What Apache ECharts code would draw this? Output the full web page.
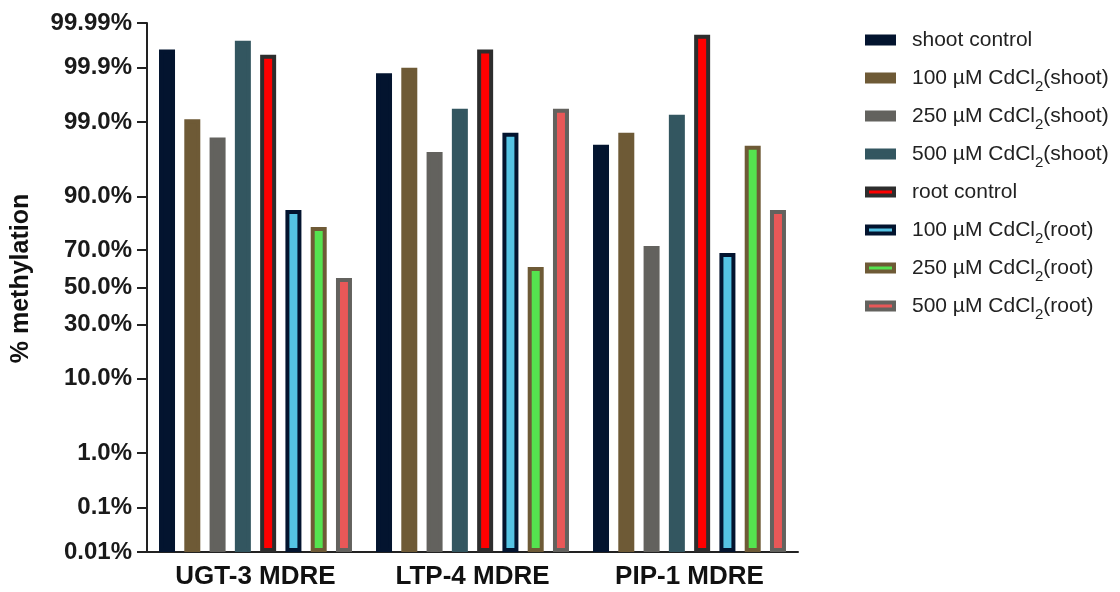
<!DOCTYPE html>
<html>
<head>
<meta charset="utf-8">
<script src="https://cdn.jsdelivr.net/npm/echarts@6/dist/echarts.min.js"></script>
<style>
  html, body { margin: 0; padding: 0; background: #fff; }
  #chart { width: 1120px; height: 592px; }
</style>
</head>
<body>
<div id="chart"></div>
<script>
// groups on the x axis
const groups = ['UGT-3 MDRE', 'LTP-4 MDRE', 'PIP-1 MDRE'];
const seriesNames = [
  'shoot control', '100 µM CdCl2(shoot)', '250 µM CdCl2(shoot)', '500 µM CdCl2(shoot)',
  'root control', '100 µM CdCl2(root)', '250 µM CdCl2(root)', '500 µM CdCl2(root)'
];
// % methylation
const shootControl = [99.959, 99.87, 97.76];
const cd100Shoot = [99.10, 99.90, 98.52];
const cd250Shoot = [98.26, 97.17, 72.0];
const cd500Shoot = [99.974, 99.40, 99.24];
const rootControl = [99.947, 99.959, 99.981];
const cd100Root = [86.2, 98.52, 68.6];
const cd250Root = [80.3, 61.4, 97.68];
const cd500Root = [55.3, 99.40, 86.2];
const tickPercents = [0.01, 0.1, 1, 10, 30, 50, 70, 90, 99, 99.9, 99.99];
const tickLabels = ['0.01%', '0.1%', '1.0%', '10.0%', '30.0%', '50.0%', '70.0%', '90.0%', '99.0%', '99.9%', '99.99%'];

// inverse normal cdf (Acklam), the axis is a probability scale
function probit(p) {
  const a = [-3.969683028665376e+01, 2.209460984245205e+02, -2.759285104469687e+02, 1.383577518672690e+02, -3.066479806614716e+01, 2.506628277459239e+00];
  const b = [-5.447609879822406e+01, 1.615858368580409e+02, -1.556989798598866e+02, 6.680131188771972e+01, -1.328068155288572e+01];
  const c = [-7.784894002430293e-03, -3.223964580411365e-01, -2.400758277161838e+00, -2.549732539343734e+00, 4.374664141464968e+00, 2.938163982698783e+00];
  const d = [7.784695709041462e-03, 3.224671290700398e-01, 2.445134137142996e+00, 3.754408661907416e+00];
  const pl = 0.02425;
  let q, r;
  if (p < pl) {
    q = Math.sqrt(-2 * Math.log(p));
    return (((((c[0] * q + c[1]) * q + c[2]) * q + c[3]) * q + c[4]) * q + c[5]) /
      ((((d[0] * q + d[1]) * q + d[2]) * q + d[3]) * q + 1);
  }
  if (p > 1 - pl) {
    q = Math.sqrt(-2 * Math.log(1 - p));
    return -(((((c[0] * q + c[1]) * q + c[2]) * q + c[3]) * q + c[4]) * q + c[5]) /
      ((((d[0] * q + d[1]) * q + d[2]) * q + d[3]) * q + 1);
  }
  q = p - 0.5;
  r = q * q;
  return (((((a[0] * r + a[1]) * r + a[2]) * r + a[3]) * r + a[4]) * r + a[5]) * q /
    (((((b[0] * r + b[1]) * r + b[2]) * r + b[3]) * r + b[4]) * r + 1);
}
const ZMAX = -probit(0.0001);
const toAxis = pct => probit(pct / 100) + ZMAX;
const tickValues = tickPercents.map(toAxis);

const fills = ['#03142f', '#6e5a36', '#63625e', '#335660', '#ff0000', '#55c3e4', '#55e34f', '#e85858'];
const borders = ['#03142f', '#6e5a36', '#63625e', '#335660', '#2d2d2d', '#03142f', '#6e5a36', '#63625e'];
const allData = [shootControl, cd100Shoot, cd250Shoot, cd500Shoot, rootControl, cd100Root, cd250Root, cd500Root];

const font = "'Liberation Sans', Arial, sans-serif";

const option = {
  animation: false,
  grid: { left: 147, right: 322, top: 23, bottom: 40, containLabel: false },
  legend: {
    orient: 'vertical',
    left: 860,
    top: 17,
    itemWidth: 27,
    itemHeight: 7,
    itemGap: 2,
    icon: 'rect',
    itemStyle: { borderWidth: 4 },
    data: seriesNames,
    formatter: name => name.replace('CdCl2', 'CdCl{sub|2}'),
    textStyle: {
      fontFamily: font,
      fontSize: 21,
      color: '#222',
      lineHeight: 36,
      padding: [0, 0, 0, 13],
      rich: {
        sub: { fontFamily: font, fontSize: 15, lineHeight: 15, color: '#222', padding: [17, 0, 0, 0] }
      }
    }
  },
  xAxis: {
    type: 'category',
    data: groups,
    axisLine: { lineStyle: { color: '#222', width: 2 } },
    axisTick: { alignWithLabel: true, length: 12, lineStyle: { color: '#222', width: 2 } },
    axisLabel: { color: '#111', fontFamily: font, fontWeight: 'bold', fontSize: 26, margin: 12 }
  },
  yAxis: {
    type: 'value',
    min: 0,
    max: 2 * ZMAX,
    name: '% methylation',
    nameLocation: 'middle',
    nameRotate: 90,
    nameGap: 113,
    nameTextStyle: { color: '#111', fontFamily: font, fontWeight: 'bold', fontSize: 25, padding: [0, 0, 0, 18] },
    splitLine: { show: false },
    axisLine: { show: true, lineStyle: { color: '#222', width: 2 } },
    axisTick: { show: true, length: 10, customValues: tickValues, lineStyle: { color: '#222', width: 2 } },
    axisLabel: {
      customValues: tickValues,
      margin: 15,
      color: '#1a1a1a',
      fontFamily: font,
      fontWeight: 'bold',
      fontSize: 24,
      formatter: v => {
        const i = tickValues.findIndex(t => Math.abs(t - v) < 1e-6);
        return i >= 0 ? tickLabels[i] : '';
      }
    }
  },
  series: seriesNames.map((name, i) => ({
    name,
    type: 'bar',
    barWidth: 16,
    barGap: '58%',
    data: allData[i].map(toAxis),
    itemStyle: { color: fills[i], borderColor: borders[i], borderWidth: 4 }
  }))
};

const chart = echarts.init(document.getElementById('chart'));
chart.setOption(option);
</script>
</body>
</html>
